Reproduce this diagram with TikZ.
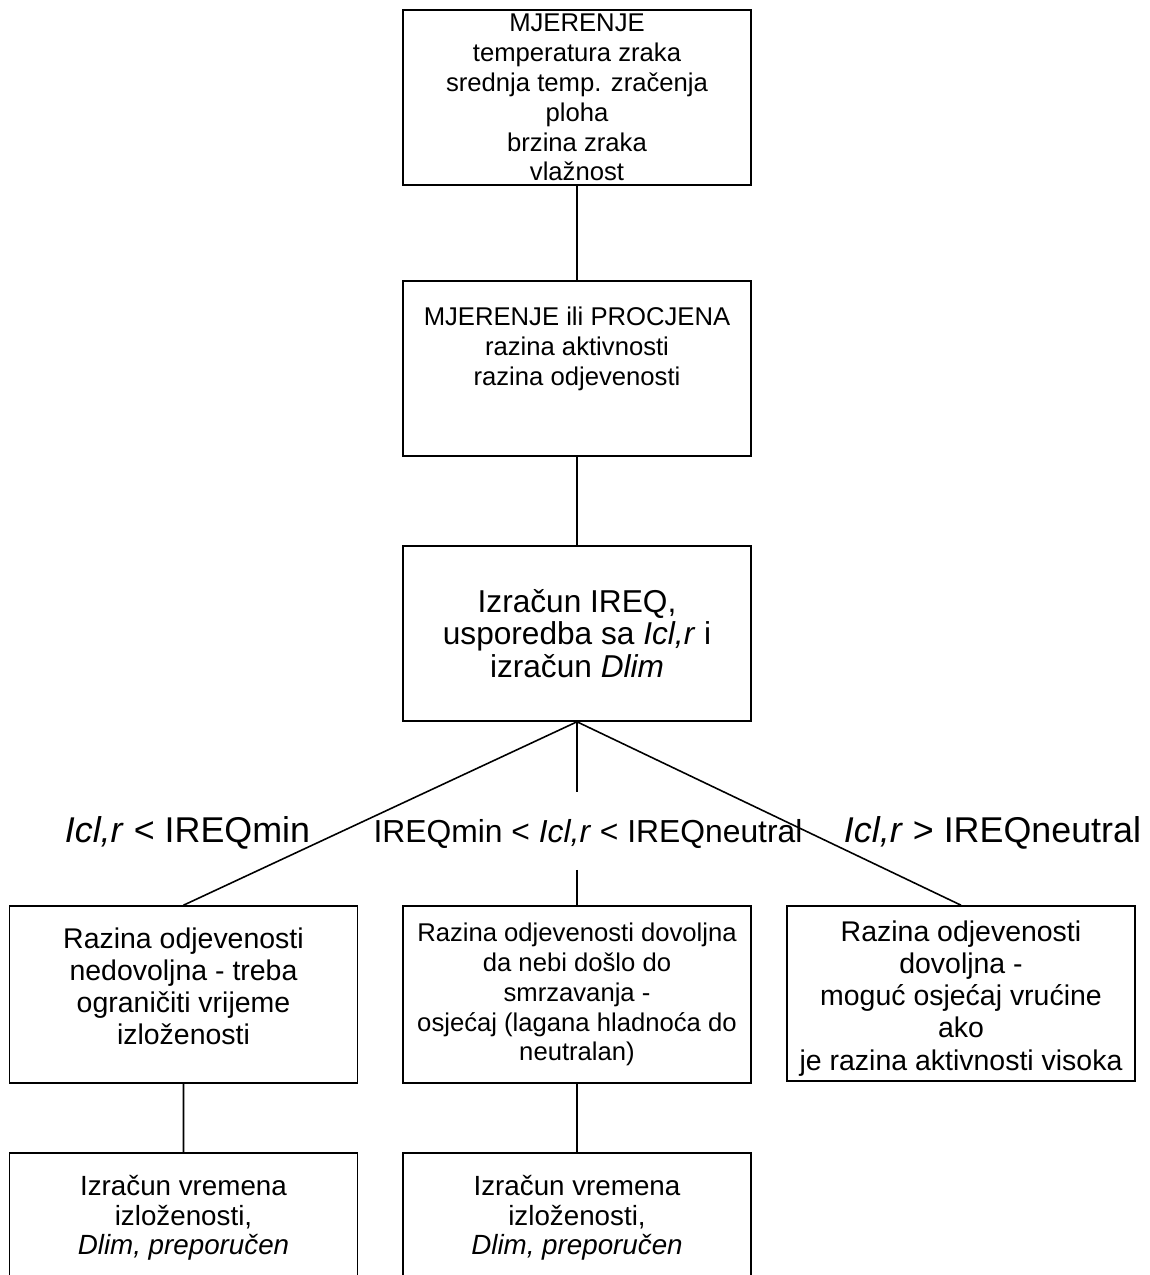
\documentclass[tikz,border=0pt]{standalone}
\usepackage{fontspec}
\setmainfont{Liberation Sans}
\newcommand{\fsmall}{\fontsize{14.6pt}{17pt}\selectfont}
\newcommand{\fmid}{\fontsize{16.2pt}{18.3pt}\selectfont}
\newcommand{\fbottom}{\fontsize{15.8pt}{16.8pt}\selectfont}
\newcommand{\fbig}{\fontsize{18pt}{18.7pt}\selectfont}
\newcommand{\flabel}{\fontsize{20.4pt}{22pt}\selectfont}
\newcommand{\flabelmid}{\fontsize{18.1pt}{20pt}\selectfont}

\begin{document}
\begin{tikzpicture}[scale=0.2]
    \tikzstyle{every node}+=[inner sep=0pt]
    \tikzstyle{box}=[draw=black, line width=0.9pt, minimum width=6.96cm, minimum height=3.5cm, align=center]
    \tikzstyle{conn}=[black, line width=0.9pt]
    \useasboundingbox (0,0) rectangle (114.9,-127.5);
    % top row
    \node [box, font=\fsmall] (mjerenje) at (57.7,-9.75) {MJERENJE\\temperatura zraka\\srednja temp. zračenja\\ploha\\brzina zraka\\vlažnost};
    \node [box, font=\fsmall] (procjena) at (57.7,-36.85) {MJERENJE ili PROCJENA\\razina aktivnosti\\razina odjevenosti\\[8pt]\mbox{}};
    \node [box, font=\fbig] (izracun) at (57.7,-63.35) {Izračun IREQ,\\usporedba sa \textit{Icl,r} i\\izračun \textit{Dlim}};
    \draw [conn] (mjerenje) -- (procjena);
    \draw [conn] (procjena) -- (izracun);
    % three cases
    \node [box, font=\fmid, minimum height=3.54cm] (nedovoljna) at (18.35,-99.45) {Razina odjevenosti\\nedovoljna - treba\\ograničiti vrijeme\\izloženosti\\[-9pt]\mbox{}};
    \node [box, font=\fsmall, minimum height=3.54cm] (dovoljna) at (57.7,-99.45) {Razina odjevenosti dovoljna\\da nebi došlo do\\smrzavanja -\\osjećaj (lagana hladnoća do\\neutralan)};
    \node [box, font=\fmid] (vrucina) at (96.1,-99.35) {\mbox{}\\[-1pt]Razina odjevenosti\\dovoljna -\\moguć osjećaj vrućine\\ako\\je razina aktivnosti visoka};
    \node [font=\flabel] (lblmin) at (18.75,-83.3) {\textit{Icl,r} < IREQmin};
    \node [font=\flabelmid] (lblmid) at (58.8,-83.4) {IREQmin < \textit{Icl,r} < IREQneutral};
    \node [font=\flabel] (lblneutral) at (99.25,-83.3) {\textit{Icl,r} > IREQneutral};
    \coordinate (gapA) at (57.7,-79.2);
    \coordinate (gapB) at (57.7,-87.0);
    \draw [conn] (izracun.south) -- (nedovoljna.north);
    \draw [conn] (izracun.south) -- (gapA);
    \draw [conn] (gapB) -- (dovoljna.north);
    \draw [conn] (izracun.south) -- (vrucina.north);
    % exposure time
    \node [box, font=\fbottom, minimum height=2.6cm] (vrijemeA) at (18.35,-121.8) {Izračun vremena\\izloženosti,\\\textit{Dlim, preporučen}};
    \node [box, font=\fbottom, minimum height=2.6cm] (vrijemeB) at (57.7,-121.8) {Izračun vremena\\izloženosti,\\\textit{Dlim, preporučen}};
    \draw [conn] (nedovoljna) -- (vrijemeA);
    \draw [conn] (dovoljna) -- (vrijemeB);
\end{tikzpicture}
\end{document}
